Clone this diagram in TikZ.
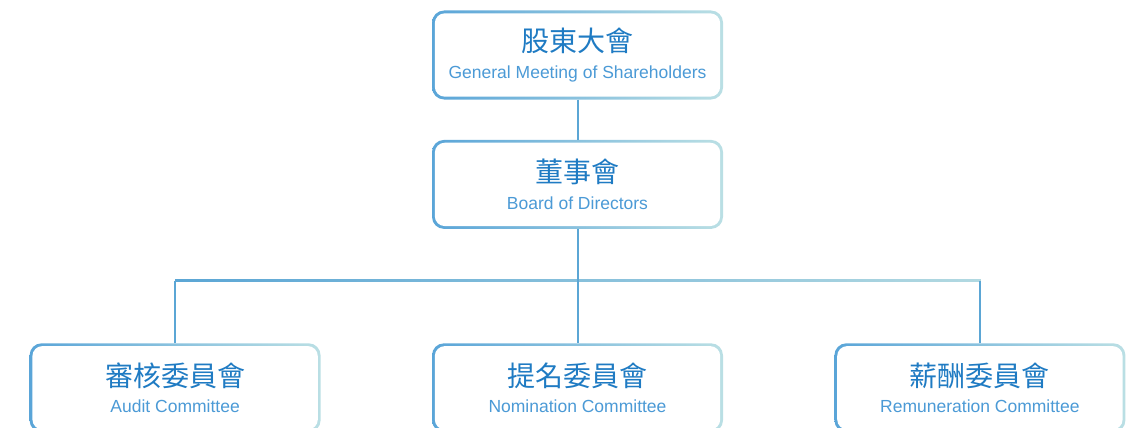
\documentclass[tikz,border=0pt]{standalone}
\usepackage{fontspec}
\setmainfont{Liberation Sans}
\newfontfamily\cjk{Noto Sans CJK TC}
\usetikzlibrary{positioning,calc}
\definecolor{frameBlue}{HTML}{5AA5D8}
\definecolor{frameTeal}{HTML}{BADFE4}
\definecolor{lineBlue}{HTML}{5BA6D5}
\definecolor{lineTeal}{HTML}{B2D9E1}
\definecolor{titleBlue}{HTML}{1F7BC3}
\definecolor{subBlue}{HTML}{4B9AD6}

\tikzset{
  orgbox/.style={rounded corners=12pt,minimum width=291pt,minimum height=89pt,inner sep=0pt,
    left color=frameBlue,right color=frameTeal,align=center,
    path picture={\fill[white,rounded corners=10pt]
      ([shift={(2.8pt,-2.8pt)}]path picture bounding box.north west) rectangle
      ([shift={(-2.8pt,2.8pt)}]path picture bounding box.south east);}},
  link/.style={lineBlue,line width=2pt}
}
\newcommand\zh[1]{{\cjk\fontsize{28}{30}\selectfont\color{titleBlue}#1}}
\newcommand\en[1]{{\fontsize{17.5}{18}\selectfont\color{subBlue}#1}}

\begin{document}
\begin{tikzpicture}[x=1pt,y=-1pt]
  \useasboundingbox (0,0) rectangle (1129,428);
  \node[orgbox] (gms) at (577.5,55) {\zh{股東大會}\\[10.5pt]\en{General Meeting of Shareholders}};
  \node[orgbox,below=40pt of gms] (board) {\zh{董事會}\\[10.5pt]\en{Board of Directors}};
  \node[orgbox,below=114pt of board] (nom) {\zh{提名委員會}\\[10.5pt]\en{Nomination Committee}};
  \node[orgbox,left=111pt of nom] (aud) {\zh{審核委員會}\\[10.5pt]\en{Audit Committee}};
  \node[orgbox,right=111pt of nom] (rem) {\zh{薪酬委員會}\\[10.5pt]\en{Remuneration Committee}};
  \coordinate (hub) at (577.5,280);
  % branch bar fades out to the right
  \shade[left color=lineBlue,right color=lineTeal]
    ([yshift=1pt]aud.north |- hub) rectangle ([yshift=-1pt,xshift=1pt]rem.north |- hub);
  \draw[link] (gms) -- (board);
  \draw[link] (board) -- (nom);
  \draw[link] (aud.north) -- ([yshift=-1pt]aud.north |- hub);
  \draw[link] (rem.north) -- ([yshift=-1pt]rem.north |- hub);
\end{tikzpicture}
\end{document}
